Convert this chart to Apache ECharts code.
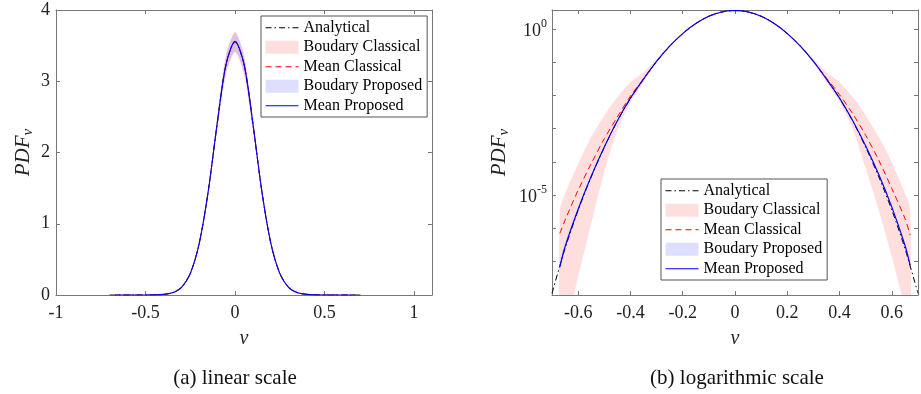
<!DOCTYPE html>
<html>
<head>
<meta charset="utf-8">
<script src="https://cdn.jsdelivr.net/npm/echarts@6/dist/echarts.min.js"></script>
<style>html,body{margin:0;padding:0;background:#fff}#c{width:921px;height:394px}</style>
</head>
<body>
<div id="c"></div>
<script>
// ---- data ----
const vA = [-0.7,-0.65,-0.6,-0.55,-0.5,-0.45,-0.4,-0.35,-0.3,-0.25,-0.2,-0.15,-0.1,-0.05,0,0.05,0.1,0.15,0.2,0.25,0.3,0.35,0.4,0.45,0.5,0.55,0.6,0.65,0.7];
const vS = [-0.67,-0.65,-0.6,-0.55,-0.5,-0.45,-0.4,-0.35,-0.3,-0.25,-0.2,-0.15,-0.1,-0.05,0,0.05,0.1,0.15,0.2,0.25,0.3,0.35,0.4,0.45,0.5,0.55,0.6,0.65,0.67];
const analytical = [1.12e-8,2.51e-7,3.55e-6,3.55e-5,2.75e-4,1.70e-3,8.1e-3,0.0309,0.105,0.302,0.724,1.45,2.40,3.24,3.55,3.24,2.40,1.45,0.724,0.302,0.105,0.0309,8.1e-3,1.70e-3,2.75e-4,3.55e-5,3.55e-6,2.51e-7,1.12e-8];
const meanClassical = [7.08e-7,1.78e-6,1.41e-5,8.9e-5,5.0e-4,2.24e-3,9.5e-3,0.0316,0.105,0.302,0.724,1.45,2.40,3.24,3.55,3.24,2.40,1.45,0.724,0.302,0.105,0.0331,0.0105,2.82e-3,6.3e-4,1.12e-4,1.58e-5,2.0e-6,6.3e-7];
const classicalUpper = [3.55e-6,1.12e-5,8.9e-5,5.6e-4,2.51e-3,8.9e-3,0.0251,0.0501,0.126,0.331,0.776,1.50,2.50,3.38,3.70,3.38,2.50,1.50,0.776,0.331,0.126,0.0501,0.0251,8.9e-3,2.51e-3,5.6e-4,1.0e-4,1.12e-5,3.98e-6];
const classicalLower = [1.78e-10,7.9e-10,3.55e-8,1.41e-6,5.0e-5,8.9e-4,6.3e-3,0.0251,0.0933,0.288,0.692,1.40,2.30,3.10,3.40,3.10,2.30,1.40,0.692,0.288,0.0933,0.0251,6.3e-3,1.0e-3,6.3e-5,3.55e-6,1.41e-7,4.0e-9,1.0e-9];
const meanProposed = [7.08e-8,2.82e-7,3.80e-6,3.72e-5,2.82e-4,1.74e-3,8.3e-3,0.0309,0.105,0.302,0.724,1.45,2.40,3.24,3.56,3.24,2.40,1.45,0.724,0.302,0.105,0.0309,8.3e-3,1.76e-3,3.02e-4,4.17e-5,4.37e-6,3.16e-7,7.94e-8];
const proposedUpper = [9.5e-8,3.7e-7,4.5e-6,4.2e-5,3.1e-4,1.86e-3,8.7e-3,0.0322,0.108,0.31,0.745,1.49,2.48,3.36,3.68,3.36,2.48,1.49,0.745,0.31,0.108,0.0322,8.7e-3,1.9e-3,3.3e-4,4.6e-5,5.0e-6,4.0e-7,1.0e-7];
const proposedLower = [5.3e-8,2.2e-7,3.2e-6,3.3e-5,2.55e-4,1.62e-3,7.8e-3,0.0297,0.102,0.294,0.705,1.41,2.32,3.12,3.42,3.12,2.32,1.41,0.705,0.294,0.102,0.0297,7.8e-3,1.62e-3,2.7e-4,3.7e-5,3.8e-6,2.5e-7,6.0e-8];
const linTicksX = [-1,-0.5,0,0.5,1];
const logTicksX = [-0.6,-0.4,-0.2,0,0.2,0.4,0.6];
const logLabelExps = [0,-5];
const legendNames = ['Analytical','Boudary Classical','Mean Classical','Boudary Proposed','Mean Proposed'];
const captions = ['(a) linear scale','(b) logarithmic scale'];

// ---- helpers ----
const FONT = 'Liberation Serif';
const AX = '#777';
const TXT = '#222';
const pairs = (xs, ys) => xs.map((x, i) => [x, ys[i]]);
const PINK = 'rgba(255,0,0,0.13)';
const LAV = 'rgba(0,0,255,0.13)';

function bandSeries(name, lower, upper, color, xi, yi) {
  return {
    type:'custom', name, xAxisIndex: xi, yAxisIndex: yi, silent:true, z:1,
    color,
    data: vS.map((v, i) => [v, lower[i], upper[i]]),
    encode:{x:0, y:[1,2]},
    renderItem: (params, api) => {
      if (params.dataIndex !== 0) return null;
      const pts = [];
      for (let i = 0; i < vS.length; i++) pts.push(api.coord([vS[i], upper[i]]));
      for (let i = vS.length - 1; i >= 0; i--) pts.push(api.coord([vS[i], lower[i]]));
      const cs = params.coordSys;
      return {
        type:'group',
        clipPath:{type:'rect', shape:{x:cs.x, y:cs.y, width:cs.width, height:cs.height}},
        children:[{type:'polygon', shape:{points:pts, smooth:0.25}, style:{fill:color, stroke:null}}]
      };
    }
  };
}
function lineSeries(xi, yi) {
  return [
    {type:'line', name:'Analytical', xAxisIndex: xi, yAxisIndex: yi, data: pairs(vA, analytical), symbol:'none', showSymbol:false, smooth:0.3,
     color:'#000', lineStyle:{color:'#000', width:1, type:[6,3,1.5,3]}, z:3},
    {type:'line', name:'Mean Classical', xAxisIndex: xi, yAxisIndex: yi, data: pairs(vS, meanClassical), symbol:'none', showSymbol:false, smooth:0.3,
     color:'#f00', lineStyle:{color:'#f00', width:1, type:[6,4]}, z:3},
    {type:'line', name:'Mean Proposed', xAxisIndex: xi, yAxisIndex: yi, data: pairs(vS, meanProposed), symbol:'none', showSymbol:false, smooth:0.3,
     color:'#00f', lineStyle:{color:'#0000ee', width:1.1}, z:3}
  ];
}
const tickStyle = {inside:true, length:4, lineStyle:{color:AX, width:1}};
const lineAx = {show:true, onZero:false, lineStyle:{color:AX, width:1}};
const labelBase = {fontFamily: FONT, fontSize: 18, color: TXT};
const nameRich = {
  a:{fontFamily:FONT, fontSize:21, fontStyle:'italic', color:TXT, lineHeight:26},
  b:{fontFamily:FONT, fontSize:15, fontStyle:'italic', color:TXT, lineHeight:15, verticalAlign:'bottom'}
};
const hideSym = {opacity:0, color:'rgba(0,0,0,0)', borderWidth:0};
function legendCfg(left, top) {
  return {
    left, top, orient:'vertical', itemWidth:33, itemHeight:13, itemGap:0,
    padding:[2,5,1.5,4], borderColor:'#555', borderWidth:1, backgroundColor:'#fff',
    textStyle:{fontFamily:FONT, fontSize:16, color:'#000', lineHeight:19.5},
    selectedMode:false,
    data:[
      {name:legendNames[0], itemStyle:hideSym, lineStyle:{width:1}},
      {name:legendNames[1], icon:'rect', itemStyle:{color:PINK}},
      {name:legendNames[2], itemStyle:hideSym, lineStyle:{width:1}},
      {name:legendNames[3], icon:'rect', itemStyle:{color:LAV}},
      {name:legendNames[4], itemStyle:hideSym, lineStyle:{width:1}}
    ]
  };
}

const isTick = (v, list) => list.some(t => Math.abs(t - v) < 1e-6);

const option = {
  animation:false,
  backgroundColor:'#fff',
  grid:[
    {left:56, top:10, width:376, height:285},
    {left:552, top:10, width:367, height:285}
  ],
  xAxis:[
    {gridIndex:0, type:'value', min:-1, max:1.1, interval:0.5, position:'bottom',
     axisLine:lineAx, axisTick:tickStyle, splitLine:{show:false},
     axisLabel:{...labelBase, margin:9, formatter: v => isTick(v, linTicksX) ? String(Math.round(v*10)/10) : ''},
     name:'v', nameLocation:'middle', nameGap:34,
     nameTextStyle:{fontFamily:FONT, fontSize:20, fontStyle:'italic', color:TXT}},
    {gridIndex:0, type:'value', min:-1, max:1.1, interval:0.5, position:'top',
     axisLine:lineAx, axisTick:tickStyle, splitLine:{show:false}, axisLabel:{show:false}},
    {gridIndex:1, type:'value', min:-0.7, max:0.7, splitNumber:7, minInterval:0.2, maxInterval:0.2, position:'bottom',
     axisLine:lineAx, axisTick:tickStyle, splitLine:{show:false},
     axisLabel:{...labelBase, margin:9, formatter: v => isTick(v, logTicksX) ? String(Math.round(v*10)/10) : ''},
     name:'v', nameLocation:'middle', nameGap:34,
     nameTextStyle:{fontFamily:FONT, fontSize:20, fontStyle:'italic', color:TXT}},
    {gridIndex:1, type:'value', min:-0.7, max:0.7, splitNumber:7, minInterval:0.2, maxInterval:0.2, position:'top',
     axisLine:lineAx, axisTick:tickStyle, splitLine:{show:false}, axisLabel:{show:false}}
  ],
  yAxis:[
    {gridIndex:0, type:'value', min:0, max:4, interval:1, position:'left',
     axisLine:lineAx, axisTick:tickStyle, splitLine:{show:false},
     axisLabel:{...labelBase, margin:6},
     name:'{a|PDF}{b|v}', nameLocation:'middle', nameGap:20, nameTextStyle:{rich:nameRich}},
    {gridIndex:0, type:'value', min:0, max:4, interval:1, position:'right',
     axisLine:lineAx, axisTick:tickStyle, splitLine:{show:false}, axisLabel:{show:false}},
    {gridIndex:1, type:'log', logBase:10, min:1e-8, max:3.7, position:'left',
     axisLine:lineAx, axisTick:tickStyle, splitLine:{show:false}, minorTick:{show:false},
     axisLabel:{margin:5, formatter: v => {
        const e = Math.log10(v); const r = Math.round(e);
        if (Math.abs(e - r) > 1e-6 || !logLabelExps.includes(r)) return '';
        return '{b|10}{p|' + r + '}';
      }, rich:{
        b:{fontFamily:FONT, fontSize:18, color:TXT, verticalAlign:'bottom'},
        p:{fontFamily:FONT, fontSize:12, color:TXT, verticalAlign:'top', padding:[0,0,10,0]}
      }},
     name:'{a|PDF}{b|v}', nameLocation:'middle', nameGap:40, nameTextStyle:{rich:nameRich}},
    {gridIndex:1, type:'log', logBase:10, min:1e-8, max:3.7, position:'right',
     axisLine:lineAx, axisTick:tickStyle, splitLine:{show:false}, axisLabel:{show:false}}
  ],
  legend:[legendCfg(261, 16), legendCfg(661, 179)],
  graphic:[
    {type:'text', x:235, y:378, style:{text:captions[0], fontFamily:FONT, fontSize:21, fill:'#111', align:'center', verticalAlign:'middle'}},
    {type:'text', x:737, y:378, style:{text:captions[1], fontFamily:FONT, fontSize:21, fill:'#111', align:'center', verticalAlign:'middle'}}
  ],
  series:[
    bandSeries('Boudary Classical', classicalLower, classicalUpper, PINK, 0, 0),
    bandSeries('Boudary Proposed', proposedLower, proposedUpper, LAV, 0, 0),
    ...lineSeries(0, 0),
    bandSeries('Boudary Classical', classicalLower, classicalUpper, PINK, 2, 2),
    bandSeries('Boudary Proposed', proposedLower, proposedUpper, LAV, 2, 2),
    ...lineSeries(2, 2)
  ]
};
const chart = echarts.init(document.getElementById('c'), null, {renderer:'canvas'});
chart.setOption(option);
</script>
</body>
</html>
